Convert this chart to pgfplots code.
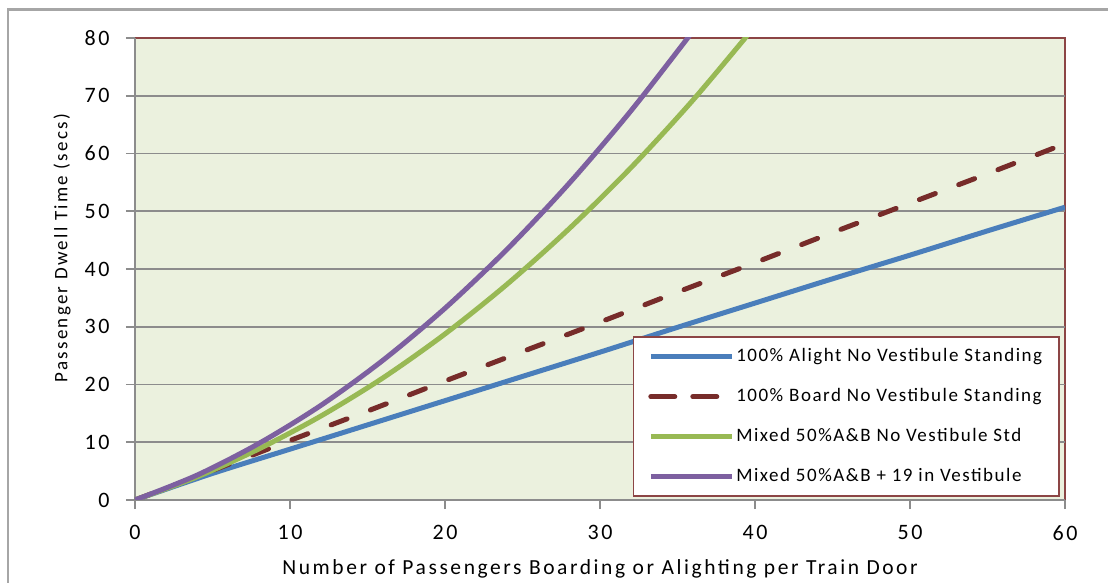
\documentclass[border=0pt]{standalone}
\usepackage{fontspec}
\setmainfont{Carlito}
\newfontfamily\tickfont{Carlito}[LetterSpace=12]
\newfontfamily\labelfont{Carlito}[LetterSpace=12]
\newfontfamily\legendfont{Carlito}[LetterSpace=8]
\usepackage{pgfplots}
\pgfplotsset{compat=1.18}

\definecolor{plotbg}{HTML}{EBF1DE}
\definecolor{frameRed}{HTML}{8C4545}
\definecolor{gridGray}{HTML}{8C8C8C}
\definecolor{outerGray}{HTML}{A6A6A6}
\definecolor{alightBlue}{HTML}{4A7EBB}
\definecolor{boardRed}{HTML}{772C2A}
\definecolor{mixGreen}{HTML}{98B954}
\definecolor{vestPurple}{HTML}{7D60A0}

% Dwell time (s) against passengers per door
\pgfplotstableread{
x    y
0    0
5    4.6
10   8.8
15   13.0
20   17.2
25   21.4
30   25.6
35   29.9
40   34.1
45   38.3
50   42.4
55   46.6
60   50.7
}\alight
\pgfplotstableread{
x    y
0    0
5    5.1
10   10.3
15   15.4
20   20.6
25   25.7
30   30.8
35   36.0
40   41.1
45   46.3
50   51.4
55   56.5
60   61.7
}\board
\pgfplotstableread{
x    y
0    0
4    4.0
8    8.85
12   14.55
16   21.15
20   28.75
24   37.35
28   46.95
32   57.55
36   69.25
40   82.05
}\mixed
\pgfplotstableread{
x    y
0    0
4    4.3
8    9.8
12   16.4
16   24.2
20   33.2
24   43.4
28   54.8
32   67.4
36   81.2
}\vestibule

\begin{document}
\begin{tikzpicture}[x=1pt,y=1pt]
\useasboundingbox (-135,-83) rectangle (973,500);
\fill[white] (-135,-83) rectangle (973,500);
\draw[outerGray, line width=2.5pt] (-127,-90) -- (-127,490.5) -- (980,490.5);
\begin{axis}[
  at={(0,0)}, anchor=south west,
  scale only axis, width=930pt, height=462pt,
  xmin=0, xmax=60, ymin=0, ymax=80,
  xtick={0,10,...,60},
  ytick={0,10,...,70},
  extra y ticks={80}, extra y tick style={grid=none},
  axis x line*=bottom, axis y line*=left,
  axis background/.style={fill=plotbg, draw=frameRed, line width=2pt},
  axis line style={draw=gridGray, line width=1.8pt},
  tick align=outside, major tick length=9pt,
  tick style={draw=gridGray, line width=1.8pt},
  ymajorgrids,
  major grid style={draw=gridGray, line width=1.6pt},
  /pgf/number format/assume math mode=true,
  ticklabel style={font=\tickfont\fontsize{22}{26}\selectfont},
  xticklabel style={yshift=-13pt},
  yticklabel style={xshift=-13pt},
  every axis x label/.style={at={(axis description cs:0.5,-0.1602)}, anchor=base,
    font=\labelfont\fontsize{21.5}{25}\selectfont},
  every axis y label/.style={at={(axis description cs:-0.0785,0.545)}, anchor=center,
    rotate=90, font=\labelfont\fontsize{19}{22}\selectfont},
  xlabel={Number of Passengers Boarding or Alighting per Train Door},
  ylabel={Passenger Dwell Time (secs)},
  legend cell align=left,
  legend image code/.code={\path (0pt,0pt) -- (81pt,0pt);
    \draw[#1] (7pt,0pt) -- (79pt,0pt);},
  legend style={at={(rel axis cs:1,0)}, anchor=south east, xshift=-5pt, yshift=3pt,
    draw=frameRed, line width=1.6pt, fill=white,
    font=\legendfont\fontsize{19}{22}\selectfont,
    inner xsep=15pt, inner ysep=8pt, row sep=17pt,
    nodes={inner xsep=2pt, inner ysep=3pt, text height=13pt, text depth=4pt}},
]
\addplot[alightBlue, line width=5pt, smooth] table {\alight};
\addlegendentry{100\% Alight No Vestibule Standing}
\addplot[boardRed, line width=5pt, line cap=round, dash pattern=on 17pt off 25pt, smooth] table {\board};
\addlegendentry{100\% Board No Vestibule Standing}
\addplot[mixGreen, line width=5pt, smooth] table {\mixed};
\addlegendentry{Mixed 50\%A\&B No Vestibule Std}
\addplot[vestPurple, line width=5pt, smooth] table {\vestibule};
\addlegendentry{Mixed 50\%A\&B + 19 in Vestibule}
\end{axis}
\end{tikzpicture}
\end{document}
